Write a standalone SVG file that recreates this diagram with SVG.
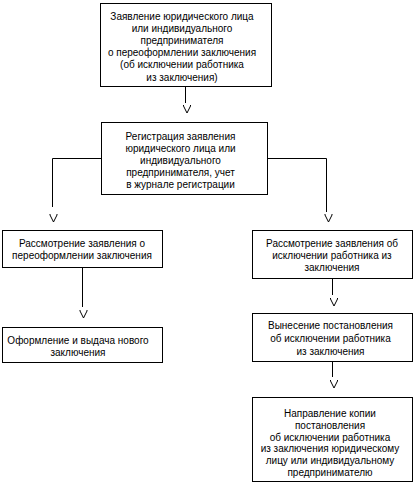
<svg xmlns="http://www.w3.org/2000/svg" width="418" height="486" viewBox="0 0 418 486">
<style>
.box{fill:#fff;stroke:#000;stroke-width:1}
.ln{fill:none;stroke:#000;stroke-width:1}
text{font-family:"Liberation Sans",Arial,sans-serif;font-size:10px;fill:#000;text-anchor:middle}
</style>
<defs>
<path id="v" d="M0,0 L0,1 L3.5,8 L7,1 L7,0" fill="none" stroke="#000" stroke-width="1"/>
</defs>
<rect x="0" y="0" width="418" height="486" fill="#fff"/>
<g id="connectors">
<path class="ln" d="M185.5,86.5 V103"/>
<use href="#v" x="183.5" y="105"/>
<path class="ln" d="M101.5,158.5 H52.5 V207"/>
<use href="#v" x="50" y="214"/>
<path class="ln" d="M267.5,158.5 H326.5 V212"/>
<use href="#v" x="325" y="214"/>
<path class="ln" d="M82.5,267.5 V307"/>
<use href="#v" x="80" y="310"/>
<path class="ln" d="M332.5,278.5 V295"/>
<use href="#v" x="330.5" y="298"/>
<path class="ln" d="M332.5,361.5 V377"/>
<use href="#v" x="330.5" y="380"/>
</g>
<g id="n1">
<rect class="box" x="100.5" y="3.5" width="171" height="83"/>
<text x="182" y="19.5">Заявление юридического лица</text>
<text x="182" y="31.7">или индивидуального</text>
<text x="182" y="43.9">предпринимателя</text>
<text x="182" y="56.1">о переоформлении заключения</text>
<text x="182" y="68.3">(об исключении работника</text>
<text x="182" y="80.5">из заключения)</text>
</g>
<g id="n2">
<rect class="box" x="101.5" y="122.5" width="166" height="72"/>
<text x="180.5" y="139.5">Регистрация заявления</text>
<text x="180.5" y="151.7">юридического лица или</text>
<text x="180.5" y="163.9">индивидуального</text>
<text x="180.5" y="176.1">предпринимателя, учет</text>
<text x="180.5" y="188.3">в журнале регистрации</text>
</g>
<g id="n3">
<rect class="box" x="2.5" y="230.5" width="160" height="37"/>
<text x="82" y="247">Рассмотрение заявления о</text>
<text x="82" y="259">переоформлении заключения</text>
</g>
<g id="n4">
<rect class="box" x="252.5" y="230.5" width="160" height="48"/>
<text x="332" y="247">Рассмотрение заявления об</text>
<text x="332" y="259.2">исключении работника из</text>
<text x="332" y="271.4">заключения</text>
</g>
<g id="n5">
<rect class="box" x="2.5" y="327.5" width="160" height="35"/>
<text x="78" y="344">Оформление и выдача нового</text>
<text x="78" y="356">заключения</text>
</g>
<g id="n6">
<rect class="box" x="252.5" y="313.5" width="160" height="48"/>
<text x="330.5" y="329">Вынесение постановления</text>
<text x="330.5" y="342">об исключении работника</text>
<text x="330.5" y="355">из заключения</text>
</g>
<g id="n7">
<rect class="box" x="252.5" y="397.5" width="160" height="84"/>
<text x="330" y="417">Направление копии</text>
<text x="330" y="428.8">постановления</text>
<text x="330" y="440.6">об исключении работника</text>
<text x="330" y="452.4">из заключения юридическому</text>
<text x="330" y="464.2">лицу или индивидуальному</text>
<text x="330" y="476">предпринимателю</text>
</g>
</svg>
